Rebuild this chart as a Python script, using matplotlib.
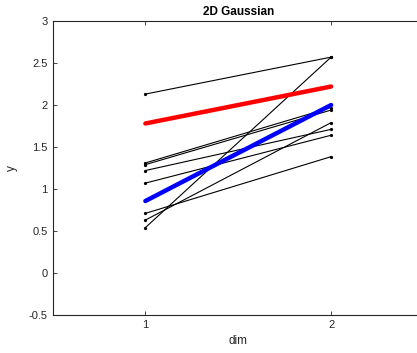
import numpy as np
import matplotlib
matplotlib.use('Agg')
import matplotlib.pyplot as plt

plt.rcParams['font.family'] = ['Liberation Sans', 'DejaVu Sans']

# sample lines: value at dim 1 and dim 2
dims = [1, 2]
starts = [2.13, 1.31, 1.29, 1.22, 1.07, 0.71, 0.63, 0.54]
ends = [2.57, 1.97, 1.94, 1.71, 1.64, 1.385, 1.79, 2.57]

# mean lines
red_line = [1.78, 2.22]
blue_line = [0.857, 2.0]

yticks = [-0.5, 0, 0.5, 1, 1.5, 2, 2.5, 3]
ytick_labels = ['-0.5', '0', '0.5', '1', '1.5', '2', '2.5', '3']

fig = plt.figure(figsize=(4.17, 3.53), dpi=100)
ax = fig.add_axes([52.5 / 417, 38 / 353, 371.5 / 417, 294 / 353])

for s, e in zip(starts, ends):
    ax.plot(dims, [s, e], '-', color='black', lw=0.8,
            marker='o', markersize=1.3)
ax.plot(dims, red_line, color='#ff0000', lw=3.2, solid_capstyle='round')
ax.plot(dims, blue_line, color='#0000ff', lw=3.2, solid_capstyle='round')

ax.set_xlim(0.5, 2.5)
ax.set_ylim(-0.5, 3)
ax.set_xticks([1, 2])
ax.set_yticks(yticks)
ax.set_yticklabels(ytick_labels)
ax.tick_params(direction='in', labelsize=8, length=3, width=0.6,
               colors='#262626', top=True, right=True)
for sp in ax.spines.values():
    sp.set_linewidth(0.8)
    sp.set_color('#262626')

ax.set_xlabel('dim', fontsize=8.5, color='#262626', labelpad=4)
ax.set_ylabel('y', fontsize=8.5, color='#262626', labelpad=8)
ax.set_title('2D Gaussian', fontsize=8.5, fontweight='bold', pad=4)

fig.savefig('out.png', dpi=100)
